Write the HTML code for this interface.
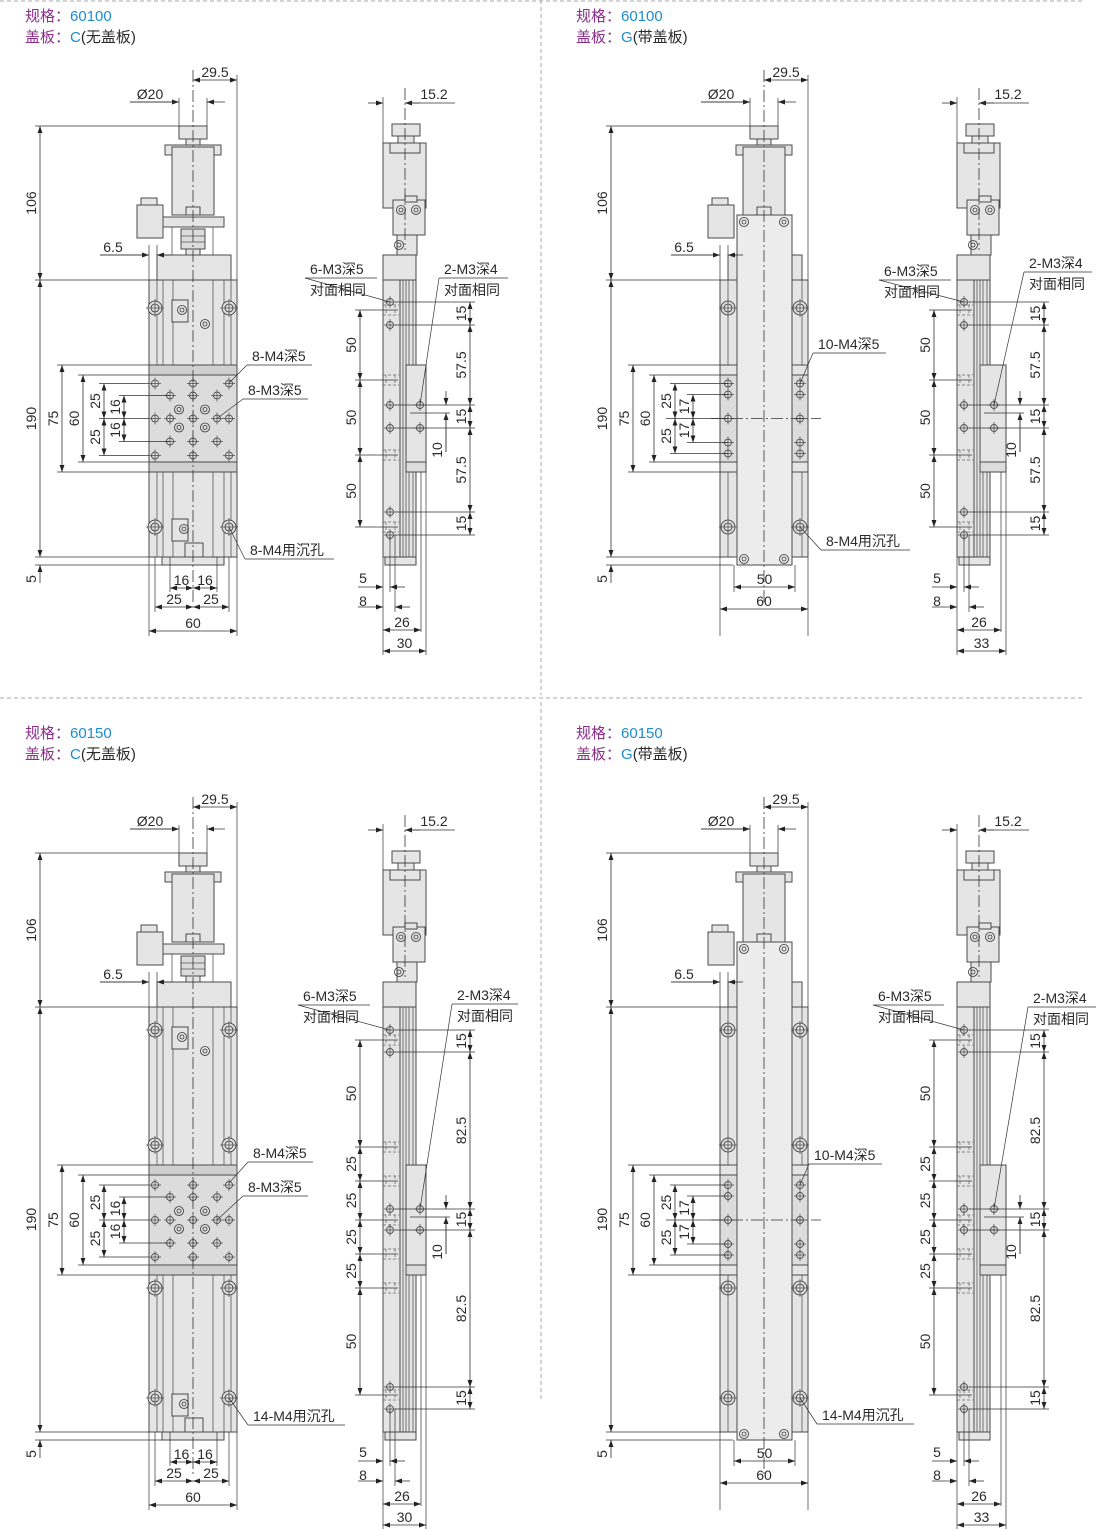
<!DOCTYPE html>
<html><head><meta charset="utf-8"><style>
html,body{margin:0;padding:0;background:#fff;}
svg{display:block;}
.t{font-family:"Liberation Sans","Noto Sans CJK SC",sans-serif;font-size:14px;fill:#2a2a2a;}
.b{fill:#e5e5e5;stroke:#4a4a4a;stroke-width:1;}
.b2{fill:#dcdcdc;stroke:#4a4a4a;stroke-width:1;}
.b3{fill:#d0d0d0;stroke:#4a4a4a;stroke-width:1;}
.bw{fill:#ececec;stroke:#4a4a4a;stroke-width:1;}
.d{stroke:#555;stroke-width:0.8;fill:none;}
.e{stroke:#333;stroke-width:0.7;fill:none;}
.dm{stroke:#333;stroke-width:0.8;fill:none;}
.cl{stroke:#333;stroke-width:0.8;stroke-dasharray:12 3 2 3;fill:none;}
.hd{stroke:#666;stroke-width:0.7;stroke-dasharray:3 2;fill:none;}
.sep{stroke:#aaa;stroke-width:1;stroke-dasharray:4 3;fill:none;}
.h{fill:#ddd;stroke:#333;stroke-width:0.8;}
</style></head><body>
<svg id="s" xmlns="http://www.w3.org/2000/svg" width="1110" height="1531" viewBox="0 0 1110 1531"></svg>
<script>
const S=[];
S.push('<defs><marker id="a" viewBox="0 0 10 10" refX="10" refY="5" markerWidth="7" markerHeight="7" orient="auto-start-reverse" markerUnits="userSpaceOnUse"><path d="M0,1.5 L10,5 L0,8.5 z" fill="#222"/></marker></defs>');
let DX=0,DY=0;
function ln(x1,y1,x2,y2,c){S.push(`<line x1="${x1+DX}" y1="${y1+DY}" x2="${x2+DX}" y2="${y2+DY}" class="${c||'e'}"/>`)}
function rc(x,y,w,h,c){S.push(`<rect x="${x+DX}" y="${y+DY}" width="${w}" height="${h}" class="${c||'b'}"/>`)}
function tx(x,y,t,rot,anc){x+=DX;y+=DY;anc=anc||'middle';
 if(rot)S.push(`<text x="${x}" y="${y}" class="t" text-anchor="${anc}" transform="rotate(-90 ${x} ${y})">${t}</text>`);
 else S.push(`<text x="${x}" y="${y}" class="t" text-anchor="${anc}">${t}</text>`)}
function ar(x1,y1,x2,y2){S.push(`<line x1="${x1+DX}" y1="${y1+DY}" x2="${x2+DX}" y2="${y2+DY}" class="dm" marker-end="url(#a)"/>`)}
function vd(x,y1,y2,t){S.push(`<line x1="${x+DX}" y1="${y1+DY}" x2="${x+DX}" y2="${y2+DY}" class="dm" marker-start="url(#a)" marker-end="url(#a)"/>`);tx(x-4,(y1+y2)/2,t,1)}
function hd(y,x1,x2,t,tx0){S.push(`<line x1="${x1+DX}" y1="${y+DY}" x2="${x2+DX}" y2="${y+DY}" class="dm" marker-start="url(#a)" marker-end="url(#a)"/>`);tx(tx0!==undefined?tx0:(x1+x2)/2,y-3,t)}
function hole(x,y){S.push(`<circle cx="${x+DX}" cy="${y+DY}" r="3.5" class="h"/>`);ln(x-6,y,x+6,y,'d');ln(x,y-6,x,y+6,'d')}
function chole(x,y){S.push(`<circle cx="${x+DX}" cy="${y+DY}" r="7" class="h"/><circle cx="${x+DX}" cy="${y+DY}" r="4" fill="none" stroke="#333" stroke-width="0.8"/>`);ln(x-9,y,x+9,y,'d');ln(x,y-9,x,y+9,'d')}
function ring(x,y){S.push(`<circle cx="${x+DX}" cy="${y+DY}" r="4.5" fill="none" stroke="#333" stroke-width="0.8"/><circle cx="${x+DX}" cy="${y+DY}" r="2" fill="none" stroke="#333" stroke-width="0.8"/>`)}
function hid(x,y){ln(x-7,y-5,x+9,y-5,'hd');ln(x-7,y+5,x+9,y+5,'hd');ln(x-4,y-5,x-4,y+5,'hd');ln(x+5,y-5,x+5,y+5,'hd')}
function label(x,y,t1,t2,ux2,px,py){
 tx(x,y+5,t1,0,'start');
 if(t2){tx(x,y+26,t2,0,'start');}
 const uy=y+9; ln(x-5,uy,ux2,uy); ln(x-5,uy,px,py);
}
function Q(dx,dy,G,big,L){
 DX=dx;DY=dy;
 const be=big?705:557, ct=big?438:365, cb=big?548:472, bd=big?147:0;
 const rm=(ct+cb)/2;
 rc(141,198,16,10,'b');rc(137,205,26,33,'b');
 rc(179,126,28,13,'b');rc(186,139,14,8,'b');
 rc(165,145,56,10,'b');rc(172,147,42,68,'b');rc(186,207,14,8,'b');
 if(!G){
  rc(163,217,61,10,'b');
  ln(172,227,172,255,'d');ln(213,227,213,255,'d');
  rc(181,229,24,20,'b2');ln(181,236,205,236,'d');ln(181,242,205,242,'d');rc(186,249,14,6,'b');
  rc(157,255,74,25,'b');
  rc(149,280,88,be-280,'b');
  [157,163,173,213,224,231].forEach(x=>ln(x,280,x,be,'d'));
  rc(162,be,62,8,'b');
  rc(149,ct,88,cb-ct,'b2');rc(149,ct,88,10,'b3');rc(149,cb-10,88,10,'b3');
  rc(185,be-14,18,14,'b');
  rc(172,300,16,22,'b');ring(182,310);ring(205,324);
  rc(172,be-38,16,22,'b');ring(184,be-28);
  const bh=big?[303,418,561,671]:[308,527];
  bh.forEach(y=>{chole(155,y);chole(229,y)});
  [rm-35,rm,rm+37].forEach(y=>{hole(155,y);hole(193,y);hole(229,y)});
  [rm-23,rm+23].forEach(y=>{hole(170,y);hole(193,y);hole(217,y)});
  hole(170,rm);hole(217,rm);
  ring(179,rm-9);ring(179,rm+9);ring(205,rm-9);ring(205,rm+9);
 } else {
  rc(157,255,74,25,'b');
  rc(149,280,88,be-280,'b');
  rc(166,215,55,be+8-215,'bw');
  ln(157,280,157,be,'d');ln(231,280,231,be,'d');
  rc(149,ct,17,cb-ct,'b2');rc(221,ct,16,cb-ct,'b2');
  rc(149,ct,17,10,'b');rc(221,ct,16,10,'b');rc(149,cb-10,17,10,'b');rc(221,cb-10,16,10,'b');
  ring(173,222);ring(213,222);ring(173,be+2);ring(213,be+2);
  const bh=big?[303,418,561,671]:[308,527];
  bh.forEach(y=>{chole(157,y);chole(229,y)});
  [rm-35,rm-24,rm,rm+24,rm+35].forEach(y=>{hole(157,y);hole(229,y)});
  ln(140,rm,250,rm,'cl');
 }
 ln(193,70,193,be+45,'cl');
 ln(237,75,237,280);hd(80,193,237,'29.5',215);
 ln(179,98,179,126);ln(207,98,207,126);ar(130,102,179,102);ar(225,102,207,102);ln(130,102,179,102);tx(150,99,'Ø20');
 ln(35,126,179,126);ln(35,280,149,280);vd(40,126,280,'106');
 vd(40,280,be,'190');ln(35,be,149,be);ln(35,be+8,162,be+8);
 ar(40,be+26,40,be+8);tx(36,be+22,'5',1);
 ln(149,245,149,280);ln(157,245,157,255);ar(100,255,149,255);ar(172,255,157,255);ln(100,255,149,255);tx(113,252,'6.5');
 ln(57,ct,149,ct);vd(62,ct,cb,'75');ln(57,cb,149,cb);
 ln(78,ct+10,149,ct+10);ln(78,cb-10,149,cb-10);vd(83,ct+10,cb-10,'60');
 if(!G){
  ln(99,rm-35,149,rm-35);ln(99,rm+37,149,rm+37);ln(99,rm,149,rm);
  vd(104,rm-35,rm,'25');vd(104,rm,rm+37,'25');
  ln(119,rm-23,170,rm-23);ln(119,rm+23,170,rm+23);
  vd(124,rm-23,rm,'16');vd(124,rm,rm+23,'16');
  ln(170,be,170,592+bd);ln(217,be,217,592+bd);ln(155,be,155,612+bd);ln(229,be,229,612+bd);
  hd(588+bd,170,193,'16');hd(588+bd,193,217,'16');
  hd(607+bd,155,193,'25');hd(607+bd,193,229,'25');
 } else {
  ln(99,rm-35,157,rm-35);ln(99,rm+35,157,rm+35);ln(95,rm,157,rm);
  vd(104,rm-35,rm,'25');vd(104,rm,rm+35,'25');
  ln(116,rm-24,157,rm-24);ln(116,rm+24,157,rm+24);
  vd(122,rm-24,rm,'17');vd(122,rm,rm+24,'17');
  ln(163,be+8,163,592+bd);ln(224,be+8,224,592+bd);
  hd(587+bd,163,224,'50');
 }
 ln(149,be,149,636+bd);ln(237,be,237,636+bd);
 hd(G?609+bd:631+bd,149,237,'60');
 if(!G){
  if(!big){label(252,356,'8-M4深5',null,312,229,ct+18);label(248,390,'8-M3深5',null,308,217,rm);label(250,550,'8-M4用沉孔',null,334,229,527);}
  else {label(253,426,'8-M4深5',null,313,229,ct+18);label(248,460,'8-M3深5',null,308,217,rm);label(253,689,'14-M4用沉孔',null,345,229,671);}
 } else {
  if(!big){label(247,344,'10-M4深5',null,315,229,rm-35);label(255,541,'8-M4用沉孔',null,339,229,527);}
  else {label(243,428,'10-M4深5',null,311,229,rm-35);label(251,688,'14-M4用沉孔',null,343,229,671);}
 }
 DX=dx+(G?3:0);
 const cx2=G?432:426;
 rc(392,124,28,12,'b');rc(398,136,16,8,'b');
 rc(383,143,43,65,'b');rc(390,143,30,10,'b');
 rc(393,200,32,35,'b');ring(401,210);ring(416,210);rc(405,196,12,6,'b');
 rc(397,235,20,20,'b');ring(399,245);
 rc(383,255,33,25,'b');
 rc(383,280,17,be-280,'b');rc(400,280,16,be-280,'b');
 [403,406,409,413].forEach(x=>ln(x,280,x,be,'d'));
 rc(406,ct,cx2-406,cb-ct-10,'b');rc(406,cb-10,cx2-406,10,'b2');
 rc(385,be,31,8,'b');
 const hs=big?[303,325,482,503,660,682]:[302,325,405,428,512,535];
 const hz=big?[313,420,454,493,527,561,668]:[310,380,455,527];
 hs.forEach(y=>hole(390,y));hz.forEach(y=>hid(390,y));
 hole(420,hs[2]);hole(420,hs[3]);
 ln(405,88,405,250,'cl');
 ln(383,97,383,143);ar(368,103,383,103);ar(420,103,405,103);ln(405,103,455,103);tx(434,99,'15.2');
 for(let i=0;i<hz.length-1;i++){ln(355,hz[i],398,hz[i]);vd(360,hz[i],hz[i+1],(big?['50','25','25','25','25','50']:['50','50','50'])[i]);}
 ln(355,hz[hz.length-1],398,hz[hz.length-1]);
 const rv=big?['15','82.5','15','82.5','15']:['15','57.5','15','57.5','15'];
 hs.forEach(y=>ln(395,y,475,y));
 for(let i=0;i<hs.length-1;i++)vd(470,hs[i],hs[i+1],rv[i]);
 ln(410,hs[2]+8,450,hs[2]+8);
 ar(446,hs[2]-14,446,hs[2]);ar(446,hs[3]+24,446,hs[2]+8);ln(446,hs[2]+8,446,hs[3]+24);
 tx(442,hs[3]+22,'10',1);
 ln(383,be,383,655+bd);ln(390,hs[5],390,592+bd);ln(395,hs[5],395,612+bd);
 ln(cx2-5,cb,cx2-5,632+bd);ln(cx2,cb,cx2,655+bd);
 ar(358,587+bd,383,587+bd);ar(405,587+bd,390,587+bd);tx(363,583+bd,'5');
 ar(358,607+bd,383,607+bd);ar(410,607+bd,395,607+bd);tx(363,606+bd,'8');
 hd(630+bd,383,cx2-5,'26');hd(651+bd,383,cx2,G?'33':'30');
 if(!G){
  if(!big){label(310,269,'6-M3深5','对面相同',377,390,302);label(444,269,'2-M3深4','对面相同',508,420,405);}
  else{label(303,269,'6-M3深5','对面相同',370,390,303);label(457,268,'2-M3深4','对面相同',518,420,482);}
 } else {
  if(!big){label(310,271,'6-M3深5','对面相同',377,390,302);label(455,263,'2-M3深4','对面相同',518,420,405);}
  else{label(304,269,'6-M3深5','对面相同',370,390,303);label(459,271,'2-M3深4','对面相同',522,420,482);}
 }
 DX=0;DY=0;
}
function title(x,y,num,c,desc){
 S.push(`<text x="${x}" y="${y}" class="t" style="font-size:15px"><tspan fill="#8b2f8b">规格：</tspan><tspan fill="#1d8ccd">${num}</tspan></text>`);
 S.push(`<text x="${x}" y="${y+21}" class="t" style="font-size:15px"><tspan fill="#8b2f8b">盖板：</tspan><tspan fill="#1d8ccd">${c}</tspan><tspan fill="#2a2a2a">${desc}</tspan></text>`);
}
S.push('<line x1="0" y1="1" x2="1085" y2="1" class="sep"/><line x1="0" y1="698" x2="1085" y2="698" class="sep"/><line x1="541" y1="0" x2="541" y2="695" class="sep"/><line x1="541" y1="702" x2="541" y2="1400" class="sep"/>');
title(25,21,'60100','C','(无盖板)');
title(576,21,'60100','G','(带盖板)');
title(25,738,'60150','C','(无盖板)');
title(576,738,'60150','G','(带盖板)');
Q(0,0,false,false);
Q(571,0,true,false);
Q(0,727,false,true);
Q(571,727,true,true);
document.getElementById('s').innerHTML=S.join('');
</script>
</body></html>
